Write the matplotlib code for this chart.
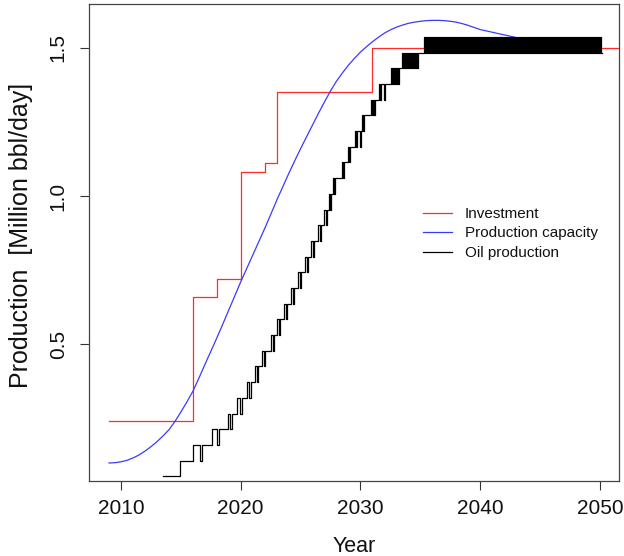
import numpy as np
import matplotlib
matplotlib.use("Agg")
import matplotlib.pyplot as plt

plt.rcParams['font.family'] = ['Liberation Sans', 'DejaVu Sans']

# ---- data ----
invest_years = [2009, 2016, 2018, 2020, 2022, 2023, 2031, 2053]
invest_values = [0.24, 0.66, 0.72, 1.08, 1.11, 1.35, 1.50, 1.50]

capacity_years = [2009.0, 2009.5, 2010.0, 2010.5, 2011.0, 2011.5, 2012.0, 2012.5,
                  2013.0, 2013.5, 2014.0, 2014.5, 2015.0, 2015.5, 2016.0, 2016.5,
                  2017.0, 2017.5, 2018.0, 2018.5, 2019.0, 2019.5, 2020.0, 2020.5,
                  2021.0, 2021.5, 2022.0, 2022.5, 2023.0, 2023.5, 2024.0, 2024.5,
                  2025.0, 2025.5, 2026.0, 2026.5, 2027.0, 2027.5, 2028.0, 2028.5,
                  2029.0, 2029.5, 2030.0, 2030.5, 2031.0, 2031.5, 2032.0, 2032.5,
                  2033.0, 2033.5, 2034.0, 2034.5, 2035.0, 2035.5, 2036.0, 2036.5,
                  2037.0, 2037.5, 2038.0, 2038.5, 2039.0, 2039.5, 2040.0, 2041.0,
                  2042.0, 2043.0, 2044.0, 2045.0, 2046.0, 2047.0, 2048.0, 2049.0, 2050.0]
capacity_values = [0.098, 0.099, 0.102, 0.107, 0.115, 0.125, 0.138, 0.153,
                   0.170, 0.189, 0.210, 0.238, 0.270, 0.304, 0.340, 0.384,
                   0.430, 0.475, 0.520, 0.567, 0.615, 0.662, 0.710, 0.755,
                   0.800, 0.845, 0.890, 0.937, 0.985, 1.030, 1.075, 1.118,
                   1.160, 1.200, 1.240, 1.280, 1.318, 1.355, 1.388, 1.416,
                   1.442, 1.465, 1.486, 1.504, 1.521, 1.536, 1.550, 1.561,
                   1.570, 1.577, 1.583, 1.587, 1.590, 1.592, 1.593, 1.593,
                   1.592, 1.590, 1.587, 1.582, 1.576, 1.569, 1.562, 1.553,
                   1.544, 1.535, 1.527, 1.518, 1.511, 1.506, 1.503, 1.501, 1.500]

# oil production: monthly number of production units, from July 2013
oil_start = 2013.5
oil_unit = 0.053
oil_units = [
    1, 1, 1, 1, 1, 1,                                   # 2013 (Jul-Dec)
    1, 1, 1, 1, 1, 1, 1, 1, 1, 1, 1, 2,                 # 2014
    2, 2, 2, 2, 2, 2, 2, 2, 2, 2, 2, 2,                 # 2015
    3, 3, 3, 3, 3, 3, 3, 2, 2, 3, 3, 3,                 # 2016
    3, 3, 3, 3, 3, 3, 3, 4, 4, 4, 4, 4,                 # 2017
    3, 3, 4, 4, 4, 4, 4, 4, 4, 4, 4, 5,                 # 2018
    5, 4, 4, 5, 5, 5, 5, 5, 6, 6, 6, 5,                 # 2019
    5, 6, 6, 6, 6, 6, 7, 7, 6, 6, 7, 7,                 # 2020
    7, 7, 8, 8, 7, 8, 8, 8, 8, 9, 9, 8,                 # 2021
    9, 9, 9, 9, 9, 9, 10, 10, 9, 10, 10, 10,            # 2022
    11, 11, 10, 11, 11, 11, 11, 12, 12, 11, 12, 12,     # 2023
    12, 12, 13, 13, 12, 13, 13, 13, 13, 14, 14, 13,     # 2024
    14, 14, 14, 14, 15, 15, 14, 15, 15, 15, 16, 16,     # 2025
    15, 16, 16, 16, 16, 17, 17, 16, 17, 17, 17, 18,     # 2026
    18, 17, 18, 18, 19, 18, 19, 19, 20, 19, 20, 20,     # 2027
    20, 20, 20, 20, 20, 21, 20, 21, 21, 21, 21, 22,     # 2028
    21, 22, 22, 22, 22, 22, 23, 22, 23, 23, 23, 23,     # 2029
    22, 23, 24, 23, 24, 24, 24, 24, 24, 24, 24, 25,     # 2030
    24, 25, 24, 25, 25, 25, 25, 26, 25, 26, 26, 26,     # 2031
    25, 26, 26, 26, 26, 26, 26, 27, 26, 27, 26, 27,     # 2032
    26, 27, 26, 27, 27, 27, 28, 27, 28, 27, 28, 27,     # 2033
    28, 27, 28, 27, 28, 27, 28, 27, 28, 27, 28, 28,     # 2034
    28, 28, 28, 28, 29, 28, 29, 28, 29, 28, 29, 28,     # 2035
    29, 28, 29, 28, 29, 28, 29, 28, 29, 28, 29, 28,     # 2036
    29, 28, 29, 28, 29, 28, 29, 28, 29, 28, 29, 28,     # 2037
    29, 28, 29, 28, 29, 28, 29, 28, 29, 28, 29, 28,     # 2038
    29, 28, 29, 28, 29, 28, 29, 28, 29, 28, 29, 28,     # 2039
    29, 28, 29, 28, 29, 28, 29, 28, 29, 28, 29, 28,     # 2040
    29, 28, 29, 28, 29, 28, 29, 28, 29, 28, 29, 28,     # 2041
    29, 28, 29, 28, 29, 28, 29, 28, 29, 28, 29, 28,     # 2042
    29, 28, 29, 28, 29, 28, 29, 28, 29, 28, 29, 28,     # 2043
    29, 28, 29, 28, 29, 28, 29, 28, 29, 28, 29, 28,     # 2044
    29, 28, 29, 28, 29, 28, 29, 28, 29, 28, 29, 28,     # 2045
    29, 28, 29, 28, 29, 28, 29, 28, 29, 28, 29, 28,     # 2046
    29, 28, 29, 28, 29, 28, 29, 28, 29, 28, 29, 28,     # 2047
    29, 28, 29, 28, 29, 28, 29, 28, 29, 28, 29, 28,     # 2048
    29, 28, 29, 28, 29, 28, 29, 28, 29, 28, 29, 28,     # 2049
    29, 28,                                             # 2050
]

x_ticks = [2010, 2020, 2030, 2040, 2050]
y_ticks = [0.5, 1.0, 1.5]
legend_labels = ["Investment", "Production capacity", "Oil production"]

# ---- figure ----
W, H = 624, 556
fig = plt.figure(figsize=(W / 100, H / 100), dpi=100)
L, R, T, B = 89, 619, 3.5, 480.7
ax = fig.add_axes([L / W, 1 - B / H, (R - L) / W, (B - T) / H])

oil_t = oil_start + np.arange(len(oil_units) + 1) / 12.0
oil_v = np.array(oil_units + [oil_units[-1]]) * oil_unit

l1, = ax.step(invest_years, invest_values, where='post', color='#ff2a2a', lw=0.9)
l2, = ax.plot(capacity_years, capacity_values, color='#3a3aff', lw=0.9)
l3, = ax.step(oil_t, oil_v, where='post', color='black', lw=0.9)

ax.set_xlim(2007.328, 2051.587)
ax.set_ylim(0.0382, 1.650)

ax.set_xticks(x_ticks)
ax.set_yticks(y_ticks)
ax.set_yticklabels([f"{v:.1f}" for v in y_ticks], rotation=90, va='center')
ax.tick_params(axis='both', direction='out', length=6.3, width=0.8, color='#333333',
               labelsize=15, labelcolor='#111111')
ax.tick_params(axis='x', pad=7)
ax.tick_params(axis='y', pad=9)
for s in ax.spines.values():
    s.set_linewidth(0.9)
    s.set_color('#444444')

ax.set_xlabel("Year", fontsize=15.5, labelpad=13, color='#111111')
ax.set_ylabel("Production  [Million bbl/day]", fontsize=18, color='#111111')
ax.yaxis.set_label_coords(-0.1057, 0.515)

leg = ax.legend([l1, l2, l3], legend_labels, loc='upper left',
                bbox_to_anchor=((423 - L) / (R - L), 1 - (207 - T) / (B - T)),
                frameon=False, fontsize=11, handlelength=1.9, handletextpad=0.85,
                labelspacing=0.36, borderpad=0, borderaxespad=0)
for t in leg.get_texts():
    t.set_color('#111111')

fig.savefig("out.png", dpi=100)
